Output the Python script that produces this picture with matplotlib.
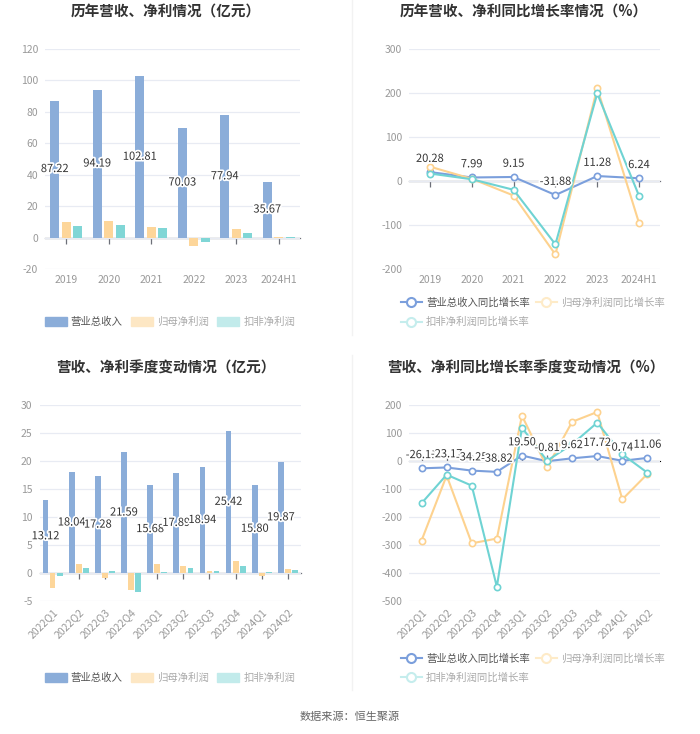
import matplotlib
matplotlib.use("Agg")
import matplotlib.pyplot as plt
import matplotlib.patheffects as pe
from matplotlib.lines import Line2D
from matplotlib.patches import Patch
import numpy as np

plt.rcParams['font.family'] = ['Noto Sans CJK SC', 'DejaVu Sans']
plt.rcParams['axes.unicode_minus'] = False

# ---- data ----
years = ['2019', '2020', '2021', '2022', '2023', '2024H1']
rev_year = [87.22, 94.19, 102.81, 70.03, 77.94, 35.67]
np_year = [9.8, 10.7, 7.0, -5.2, 5.2, 0.1]
kf_year = [7.4, 7.8, 6.1, -3.0, 2.6, 0.6]

rev_yoy_year = [20.28, 7.99, 9.15, -31.88, 11.28, 6.24]
np_yoy_year = [32.6, 5.0, -33.0, -167.0, 211.0, -96.0]
kf_yoy_year = [17.0, 4.0, -20.0, -144.0, 199.0, -34.0]

quarters = ['2022Q1', '2022Q2', '2022Q3', '2022Q4', '2023Q1', '2023Q2',
            '2023Q3', '2023Q4', '2024Q1', '2024Q2']
rev_q = [13.12, 18.04, 17.28, 21.59, 15.68, 17.89, 18.94, 25.42, 15.80, 19.87]
np_q = [-2.6, 1.67, -0.95, -3.0, 1.6, 1.25, 0.35, 2.2, -0.6, 0.7]
kf_q = [-0.6, 0.95, 0.3, -3.4, 0.15, 0.95, 0.4, 1.2, 0.15, 0.6]

rev_yoy_q = [-26.11, -23.17, -34.25, -38.82, 19.50, -0.81, 9.62, 17.72, 0.74, 11.06]
np_yoy_q = [-284, -52, -294, -277, 162, -23, 140, 175, -137, -46]
kf_yoy_q = [-151, -49, -88, -449, 119, 1, 60, 137, 24, -42]

bar_labels = ['营业总收入', '归母净利润', '扣非净利润']
line_labels = ['营业总收入同比增长率', '归母净利润同比增长率', '扣非净利润同比增长率']

BLUE, ORANGE, TEAL = '#8badd9', '#fdd69a', '#80d6d6'
LBLUE, LORANGE, LTEAL = '#7b9fdc', '#fdd28f', '#6fd3d3'
GRID = '#e8ebf3'
TICK = '#999999'

W, H = 700, 734
fig = plt.figure(figsize=(7.0, 7.34), dpi=100)


def px_axes(x0, x1, y0, y1):
    return fig.add_axes([x0 / W, 1 - y1 / H, (x1 - x0) / W, (y1 - y0) / H])


def style(ax, cats, yticks, rotate=False):
    ax.set_xlim(-0.5, len(cats) - 0.5)
    ax.set_ylim(yticks[0], yticks[-1])
    ax.set_yticks(yticks)
    ax.set_xticks(range(len(cats)))
    ax.set_xticklabels(cats)
    for s in ax.spines.values():
        s.set_visible(False)
    ax.grid(axis='y', color=GRID, linewidth=0.9)
    ax.set_axisbelow(True)
    ax.tick_params(axis='y', length=0, pad=5, labelsize=7.5, labelcolor=TICK)
    ax.tick_params(axis='x', length=0, pad=4, labelsize=7.5, labelcolor=TICK)
    if rotate:
        for t in ax.get_xticklabels():
            t.set_rotation(45)
            t.set_ha('right')
            t.set_rotation_mode('anchor')
    # zero axis line with ticks at category centres
    zero = (0 - yticks[0]) / (yticks[-1] - yticks[0])
    sec = ax.secondary_xaxis(zero)
    sec.set_xticks(range(len(cats)))
    sec.set_xticklabels([])
    sec.spines['bottom'].set_color('#6e7079')
    sec.spines['bottom'].set_linewidth(0.9)
    sec.tick_params(axis='x', length=4, color='#6e7079', width=0.9)


def bars(ax, rev, npf, kf):
    x = np.arange(len(rev))
    w, off = 0.22, 0.27
    ax.bar(x - off, rev, w, color=BLUE, zorder=2)
    ax.bar(x, npf, w, color=ORANGE, zorder=2)
    ax.bar(x + off, kf, w, color=TEAL, zorder=2)
    for xi, v in zip(x, rev):
        ax.text(xi - off, v / 2, f'{v:.2f}', ha='center', va='center',
                fontsize=8, color='#333333', zorder=5,
                path_effects=[pe.withStroke(linewidth=2.5, foreground='white')])


def lines(ax, rev, npf, kf):
    x = np.arange(len(rev))
    kw = dict(marker='o', markersize=4.5, markerfacecolor='white',
              markeredgewidth=1.2, linewidth=1.5, zorder=3)
    ax.plot(x, rev, color=LBLUE, **kw)
    ax.plot(x, npf, color=LORANGE, **kw)
    ax.plot(x, kf, color=LTEAL, **kw)
    for xi, v in zip(x, rev):
        ax.annotate(f'{v:.2f}', (xi, v), xytext=(0, 9.5), textcoords='offset points',
                    ha='center', va='center', fontsize=8, color='#333333', zorder=5,
                    path_effects=[pe.withStroke(linewidth=2.5, foreground='white')])


def bar_legend(cy):
    hs = [Patch(color=c) for c in (BLUE, '#fde7c4', '#c2ebeb')]
    lg = fig.legend(hs, bar_labels, loc='center', bbox_to_anchor=(170 / W, 1 - cy / H),
                    ncol=3, frameon=False, fontsize=7.5, handlelength=2.1,
                    handleheight=1.0, handletextpad=0.4, columnspacing=0.8,
                    borderpad=0, borderaxespad=0)
    for i, t in enumerate(lg.get_texts()):
        t.set_color('#555555' if i == 0 else '#aaaaaa')


def line_legend(cy):
    kw = dict(marker='o', markersize=6.5, markerfacecolor='white', markeredgewidth=1.5,
              linewidth=1.5)
    hs = [Line2D([], [], color=LBLUE, **kw),
          Line2D([], [], color='#c5eded', **kw),
          Line2D([], [], color='#feebc8', **kw)]
    labs = [line_labels[0], line_labels[2], line_labels[1]]
    lg = fig.legend(hs, labs, loc='center left', bbox_to_anchor=(401 / W, 1 - cy / H),
                    ncol=2, frameon=False, fontsize=7.5, handlelength=2.0,
                    handletextpad=0.4, columnspacing=0.6, labelspacing=0.85,
                    borderpad=0, borderaxespad=0)
    for i, t in enumerate(lg.get_texts()):
        t.set_color('#555555' if i == 0 else '#aaaaaa')


# top left
ax1 = px_axes(45, 300, 49, 269)
style(ax1, years, list(range(-20, 121, 20)))
bars(ax1, rev_year, np_year, kf_year)
bar_legend(322)

# top right
ax2 = px_axes(409, 660, 49, 269)
style(ax2, years, list(range(-200, 301, 100)))
lines(ax2, rev_yoy_year, np_yoy_year, kf_yoy_year)
line_legend(312.5)

# bottom left
ax3 = px_axes(39.5, 301, 405, 601)
style(ax3, quarters, list(range(-5, 31, 5)), rotate=True)
bars(ax3, rev_q, np_q, kf_q)
bar_legend(678)

# bottom right
ax4 = px_axes(409, 660, 405, 601)
style(ax4, quarters, list(range(-500, 201, 100)), rotate=True)
lines(ax4, rev_yoy_q, np_yoy_q, kf_yoy_q)
line_legend(668)

# titles
tkw = dict(ha='center', va='center', fontsize=10.5, fontweight='bold', color='#333333')
fig.text(166 / W, 1 - 12 / H, '历年营收、净利情况（亿元）', **tkw)
fig.text(524 / W, 1 - 12 / H, '历年营收、净利同比增长率情况（%）', **tkw)
fig.text(166 / W, 1 - 368 / H, '营收、净利季度变动情况（亿元）', **tkw)
fig.text(526 / W, 1 - 368 / H, '营收、净利同比增长率季度变动情况（%）', **tkw)

# separators
fig.add_artist(Line2D([352 / W] * 2, [1, 1 - 335 / H], color='#f2f2f2', linewidth=1))
fig.add_artist(Line2D([352 / W] * 2, [1 - 355 / H, 1 - 690 / H], color='#f2f2f2', linewidth=1))

fig.text(0.5, 1 - 717 / H, '数据来源：恒生聚源', ha='center', va='center',
         fontsize=8, color='#666666')

fig.savefig('out.png', dpi=100)
